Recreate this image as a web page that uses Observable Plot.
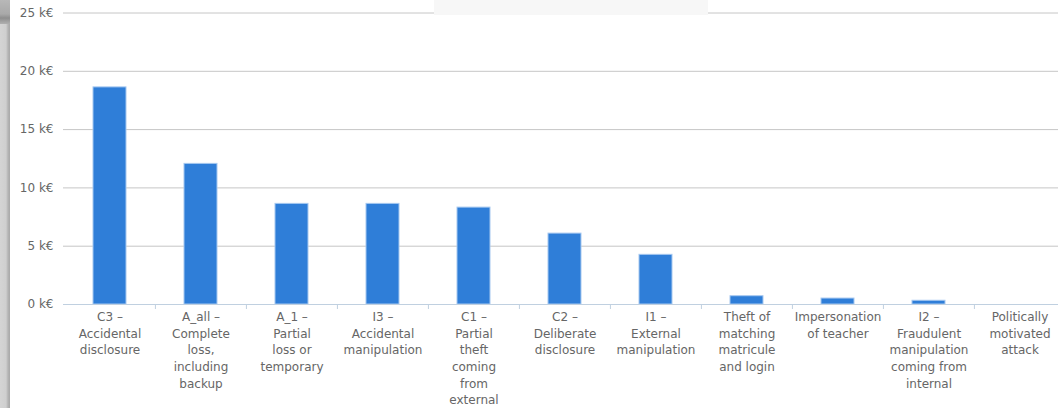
<!DOCTYPE html>
<html>
<head>
<meta charset="utf-8">
<script src="https://cdn.jsdelivr.net/npm/d3@7"></script>
<script src="https://cdn.jsdelivr.net/npm/@observablehq/plot@0.6"></script>
<style>
  html, body { margin: 0; padding: 0; background: #fff; overflow: hidden; }
  #wrap { position: relative; width: 1058px; height: 408px; overflow: hidden; }
  #chart { position: absolute; left: 0; top: 0; width: 1068px; }
  #chart svg { max-width: none !important; width: 1068px !important; height: 408px !important; }
  #edge {
    position: absolute; left: 0; top: 0; width: 10px; height: 408px;
    background: linear-gradient(to right, #d4d4d4 0, #cfcfcf 6px, #b4b4b4 8px, #a8a8a8 10px);
  }
  #edge-top {
    position: absolute; left: 0; top: 0; width: 10px; height: 24px;
    background: linear-gradient(to bottom, #b8b8b8 0, #a9a9a9 14px, #8e8e8e 18px, #b0b0b0 24px);
  }
  #titlebox {
    position: absolute; left: 434px; top: 0; width: 274px; height: 15px;
    background: #f7f7f7;
  }
</style>
</head>
<body>
<div id="wrap">
  <div id="chart"></div>
  <div id="edge"></div>
  <div id="edge-top"></div>
  <div id="titlebox"></div>
</div>
<script>
// Risk scenarios and their estimated cost (thousands of euros)
const categories = [
  "C3 – Accidental disclosure",
  "A_all – Complete loss, including backup",
  "A_1 – Partial loss or temporary",
  "I3 – Accidental manipulation",
  "C1 – Partial theft coming from external",
  "C2 – Deliberate disclosure",
  "I1 – External manipulation",
  "Theft of matching matricule and login",
  "Impersonation of teacher",
  "I2 – Fraudulent manipulation coming from internal",
  "Politically motivated attack"
];
const costs = [18.62, 12.06, 8.63, 8.63, 8.31, 6.08, 4.26, 0.71, 0.51, 0.32, 0];

// Wrapped axis labels
const tickLabels = [
  "C3 –\nAccidental\ndisclosure",
  "A_all –\nComplete\nloss,\nincluding\nbackup",
  "A_1 –\nPartial\nloss or\ntemporary",
  "I3 –\nAccidental\nmanipulation",
  "C1 –\nPartial\ntheft\ncoming\nfrom\nexternal",
  "C2 –\nDeliberate\ndisclosure",
  "I1 –\nExternal\nmanipulation",
  "Theft of\nmatching\nmatricule\nand login",
  "Impersonation\nof teacher",
  "I2 –\nFraudulent\nmanipulation\ncoming from\ninternal",
  "Politically\nmotivated\nattack"
];
const yTicks = [0, 5, 10, 15, 20, 25];

const data = categories.map((c, i) => ({category: c, value: costs[i], label: tickLabels[i]}));

const width = 1068, height = 408;
const marginLeft = 63, marginRight = 2, marginTop = 12.5, marginBottom = 104;
const step = (width - marginLeft - marginRight) / categories.length;
const plotHeight = height - marginTop - marginBottom;

const chart = Plot.plot({
  width, height, marginLeft, marginRight, marginTop, marginBottom,
  style: {fontFamily: "DejaVu Sans, Verdana, sans-serif", fontSize: "12px", color: "#666", background: "transparent"},
  x: {domain: categories, paddingInner: 0.635, paddingOuter: 0.3175, axis: null},
  y: {domain: [0, 25], axis: null},
  marks: [
    // horizontal grid
    Plot.ruleY(yTicks.filter(d => d > 0), {stroke: "#c6c6c6", strokeWidth: 1}),
    // y-axis labels
    Plot.axisY({ticks: yTicks, tickFormat: d => `${d} k€`, tickSize: 0, tickPadding: 10, fill: "#666", label: null}),
    // bars
    Plot.barY(data, {x: "category", y: "value", fill: "#2f7ed8", stroke: "#a6c8f0", strokeWidth: 1}),
    // x axis line
    Plot.ruleY([0], {stroke: "#c0d0e0", strokeWidth: 1}),
    // category boundary ticks
    Plot.ruleX(categories.slice(1), {x: d => d, dx: -step / 2, stroke: "#c0d0e0", insetTop: plotHeight, insetBottom: -5}),
    // wrapped category labels
    Plot.text(data, {x: "category", y: () => 0, text: "label", lineAnchor: "top", dy: 4.7, lineHeight: 1.39, fill: "#666", fontSize: 12})
  ]
});
document.getElementById("chart").appendChild(chart);
</script>
</body>
</html>
